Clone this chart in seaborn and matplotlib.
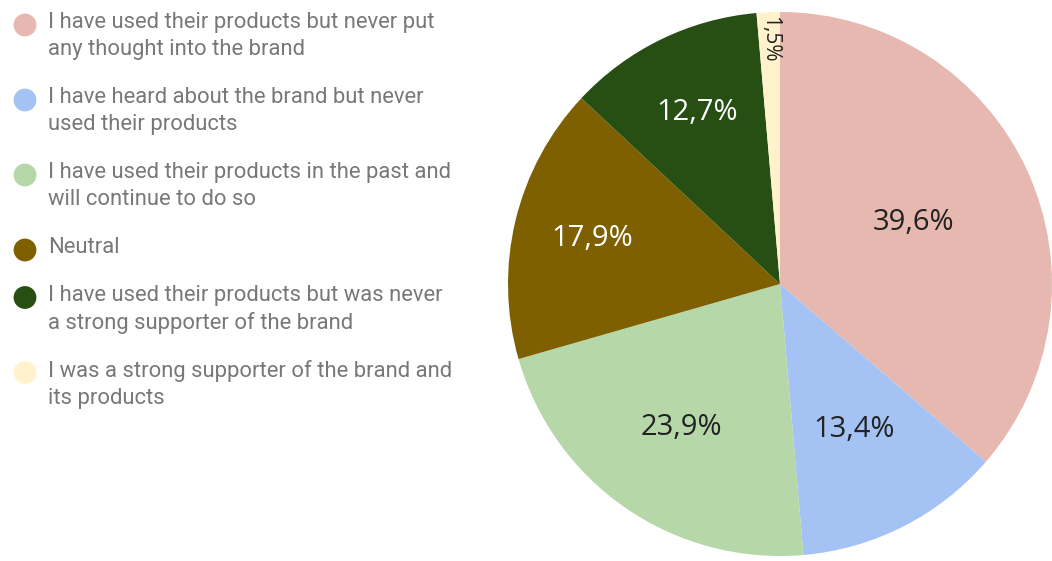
import matplotlib
matplotlib.use("Agg")
import matplotlib.pyplot as plt
import numpy as np
import seaborn as sns

# Survey answers and their shares (percent)
answers = [
    "I have used their products but never put\nany thought into the brand",
    "I have heard about the brand but never\nused their products",
    "I have used their products in the past and\nwill continue to do so",
    "Neutral",
    "I have used their products but was never\na strong supporter of the brand",
    "I was a strong supporter of the brand and\nits products",
]
shares = [39.6, 13.4, 23.9, 17.9, 12.7, 1.5]
share_labels = ["39,6%", "13,4%", "23,9%", "17,9%", "12,7%", "1,5%"]

colors = ["#E6B8AF", "#A4C2F4", "#B6D7A8", "#7F6000", "#274E13", "#FFF2CC"]
text_colors = ["#222222", "#222222", "#222222", "#FFFFFF", "#FFFFFF", "#222222"]
label_dist = [0.54, 0.60, 0.64, 0.71, 0.70, 0.90]

sns.set_theme(style="white")
plt.rcParams["font.family"] = ["Open Sans", "DejaVu Sans"]

W, H, DPI = 1052, 561, 100
fig = plt.figure(figsize=(W / DPI, H / DPI), dpi=DPI)
fig.patch.set_facecolor("white")

# Pie: centre (780, 284) px, radius 272 px
cx, cy, r = 780, 284, 272
ax = fig.add_axes([(cx - r) / W, 1 - (cy + r) / H, 2 * r / W, 2 * r / H])
wedges, _ = ax.pie(
    shares,
    colors=colors,
    startangle=90,
    counterclock=False,
    radius=1.0,
    wedgeprops=dict(linewidth=0),
)
ax.set_xlim(-1, 1)
ax.set_ylim(-1, 1)
ax.set_aspect("equal")
ax.axis("off")

for w, lab, tc, d in zip(wedges, share_labels, text_colors, label_dist):
    mid = np.deg2rad((w.theta1 + w.theta2) / 2)
    x, y = d * np.cos(mid), d * np.sin(mid)
    if lab == "1,5%":
        ax.text(x, y, lab, ha="center", va="center", rotation=270,
                fontsize=15, color=tc)
    else:
        ax.text(x, y, lab, ha="center", va="center", fontsize=21, color=tc)

# Legend column on the left, drawn in pixel coordinates
lax = fig.add_axes([0, 0, 1, 1], zorder=-1)
lax.set_xlim(0, W)
lax.set_ylim(H, 0)
lax.axis("off")

line_h = 27.5
y = 25
for ans, col in zip(answers, colors):
    nlines = ans.count("\n") + 1
    lax.scatter([25], [y], s=270, color=col, edgecolors="none")
    lax.text(48, y - 13, ans, ha="left", va="top", fontsize=15.8,
             color="#787878", family=["Roboto", "DejaVu Sans"],
             linespacing=1.4)
    y += nlines * line_h + 20

fig.savefig("out.png", dpi=DPI)
